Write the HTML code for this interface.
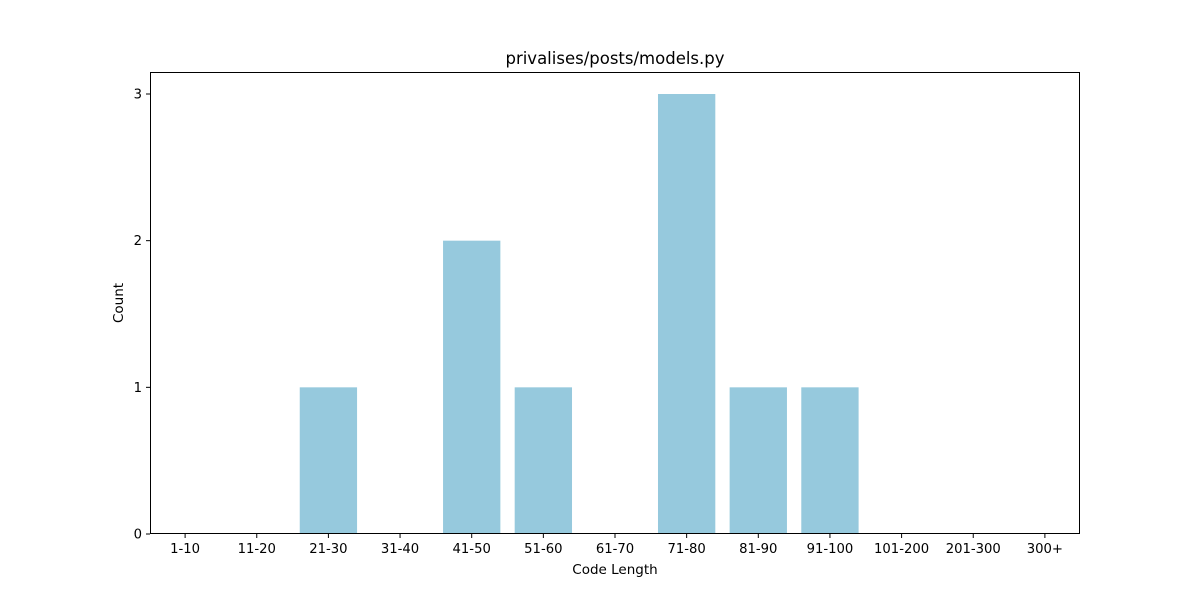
<!DOCTYPE html>
<html><head><meta charset="utf-8"><style>
body{margin:0;background:#fff;font-family:"Liberation Sans","DejaVu Sans",sans-serif;}
</style></head><body>
<svg id="chart" width="1200" height="600" xmlns="http://www.w3.org/2000/svg" font-family="DejaVu Sans, Liberation Sans, sans-serif"></svg>
<script>
const categories = ["1-10","11-20","21-30","31-40","41-50","51-60","61-70","71-80","81-90","91-100","101-200","201-300","300+"];
const counts = [0,0,1,0,2,1,0,3,1,1,0,0,0];
const yTicks = [0,1,2,3];

const NS="http://www.w3.org/2000/svg";
const svg=document.getElementById('chart');
const L=150,R=1080,T=72,B=534;
const xMin=-0.49,xMax=categories.length-1+0.49,yMax=3.15;
const xs=i=>L+(i-xMin)/(xMax-xMin)*(R-L);
const ys=v=>B-v/yMax*(B-T);
const step=(R-L)/(xMax-xMin);
function mk(tag,attrs,text){const e=document.createElementNS(NS,tag);for(const k in attrs)e.setAttribute(k,attrs[k]);if(text!=null)e.textContent=text;svg.appendChild(e);return e;}

counts.forEach((c,i)=>{
  if(c<=0)return;
  const w=step*0.8;
  const r=mk('rect',{x:xs(i)-w/2,y:ys(c),width:w,height:ys(0)-ys(c),fill:'#96c9dd'});
  
  
});
const frame=mk('rect',{x:L+0.5,y:T+0.5,width:R-L-1,height:B-T-1,fill:'none',stroke:'#000','stroke-width':1});



categories.forEach((c,i)=>{
  const x=xs(i);
  mk('line',{x1:x,x2:x,y1:B,y2:B+4,stroke:'#000'});
  const t=mk('text',{x:x,y:B+19,'text-anchor':'middle','font-size':13.2},c);
  
  
});
yTicks.forEach(v=>{
  const y=ys(v);
  mk('line',{x1:L-4,x2:L,y1:y,y2:y,stroke:'#000'});
  const t=mk('text',{x:L-8,y:y+4.5,'text-anchor':'end','font-size':13.2},v);
  
  
});
const xt=mk('text',{x:(L+R)/2,y:574,'text-anchor':'middle','font-size':13.5},'Code Length');


const yt=mk('text',{x:123,y:(T+B)/2,'text-anchor':'middle','font-size':13.5,transform:'rotate(-90 123 '+((T+B)/2)+')'},'Count');


const ti=mk('text',{x:(L+R)/2,y:64,'text-anchor':'middle','font-size':16.5},'privalises/posts/models.py');


</script>
</body></html>
